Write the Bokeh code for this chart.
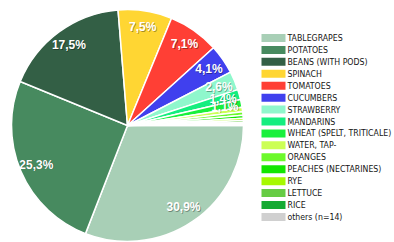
import math
from bokeh.plotting import figure
from bokeh.models import ColumnDataSource, Range1d
from bokeh.core.properties import value
from bokeh.embed import file_html
from bokeh.resources import INLINE

# ---- data ----
categories = ["TABLEGRAPES", "POTATOES", "BEANS (WITH PODS)", "SPINACH", "TOMATOES",
              "CUCUMBERS", "STRAWBERRY", "MANDARINS", "WHEAT (SPELT, TRITICALE)",
              "WATER, TAP-", "ORANGES", "PEACHES (NECTARINES)", "RYE", "LETTUCE",
              "RICE", "others (n=14)"]
shares = [30.9, 25.3, 17.5, 7.5, 7.1, 4.1, 2.6, 1.4, 1.1, 0.6, 0.5, 0.4, 0.3, 0.3, 0.2, 0.2]
palette = ["#a8cfb6", "#478a5f", "#335f45", "#ffd633", "#ff3f35", "#4040ee", "#8ff7cc",
           "#14ee7f", "#19f03c", "#ccff55", "#6cf92b", "#12e600", "#a6f900", "#66cc44",
           "#15aa33", "#d0d0d0"]

W, H = 394, 242
cx, cy, R = 127, 117, 116

total = sum(shares)
starts, ends, lx, ly, labels = [], [], [], [], []
cum = 0.0
for s in shares:
    a0 = cum / total * 2 * math.pi
    cum += s
    a1 = cum / total * 2 * math.pi
    # clockwise from 3 o'clock
    starts.append(-a1)
    ends.append(-a0)
    mid = -(a0 + a1) / 2
    lx.append(cx + 0.855 * R * math.cos(mid))
    ly.append(cy + 0.855 * R * math.sin(mid))
    labels.append(("%.1f%%" % s).replace(".", ",") if s >= 1.0 else "")

src = ColumnDataSource(dict(cat=categories, share=shares, color=palette,
                            start=starts, end=ends, lx=lx, ly=ly, label=labels))

p = figure(width=W, height=H, output_backend="svg", toolbar_location=None,
           x_range=Range1d(0, W), y_range=Range1d(0, H), min_border=0)
p.axis.visible = False
p.grid.visible = False
p.outline_line_color = None
p.background_fill_color = "white"
p.border_fill_color = "white"

p.wedge(x=cx, y=cy, radius=R, start_angle="start", end_angle="end",
        fill_color="color", line_color="white", line_width=1.5, source=src)

# label shadow + label
p.text(x="lx", y="ly", text="label", source=src, x_offset=0.8, y_offset=0.8,
       text_color="black", text_alpha=0.35, text_font=value("Liberation Sans"),
       text_font_style="bold", text_font_size="12px", text_align="center",
       text_baseline="middle")
p.text(x="lx", y="ly", text="label", source=src,
       text_color="white", text_font=value("Liberation Sans"),
       text_font_style="bold", text_font_size="12px", text_align="center",
       text_baseline="middle")

# legend (manual)
n = len(categories)
leg_y = [204.5 - i * 11.93 for i in range(n)]
lsrc = ColumnDataSource(dict(y=leg_y, cat=categories, color=palette))
p.rect(x=273, y="y", width=24, height=8, fill_color="color", line_color=None, source=lsrc)
p.text(x=287, y="y", text="cat", source=lsrc, text_color="#151515",
       text_font=value("DejaVu Sans Condensed"), text_font_size="8.7px",
       text_align="left", text_baseline="middle")

open("out.html", "w").write(file_html(p, INLINE))
